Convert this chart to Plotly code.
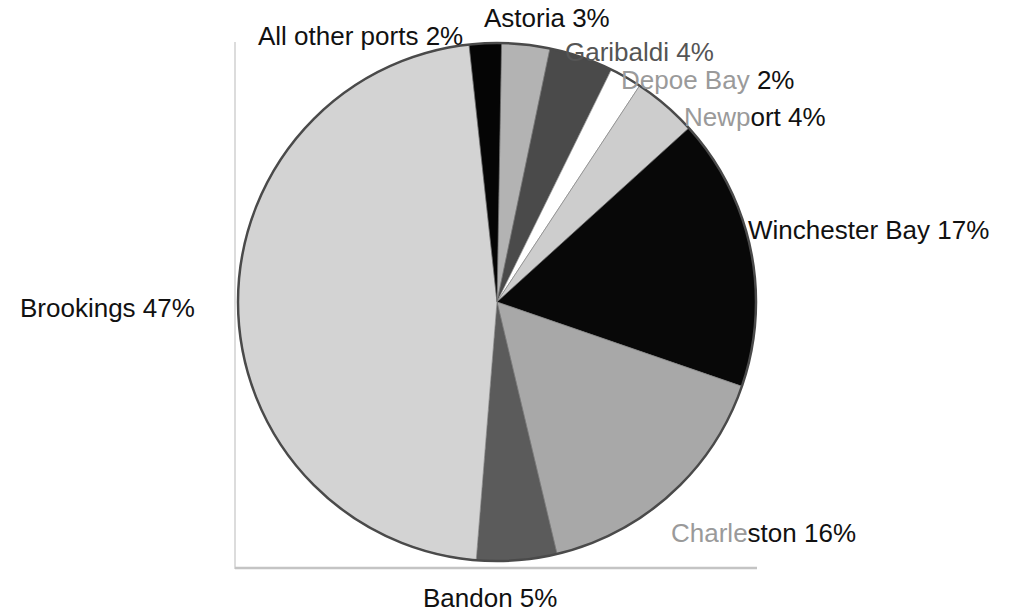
import plotly.graph_objects as go

# slices, clockwise from 12 o'clock
ports = ["Astoria", "Garibaldi", "Depoe Bay", "Newport", "Winchester Bay",
         "Charleston", "Bandon", "Brookings", "All other ports"]
shares = [3, 4, 2, 4, 17, 16, 5, 47, 2]
greys = ["#b3b3b3", "#4a4a4a", "#ffffff", "#cdcdcd", "#080808",
         "#a8a8a8", "#5b5b5b", "#d3d3d3", "#050505"]

# label placement (left edge px, centre y px) and faded prefix from the scan
label_pos = {
    "Astoria": (482, 18),
    "Garibaldi": (563, 52),
    "Depoe Bay": (619, 80),
    "Newport": (682, 117),
    "Winchester Bay": (746, 230),
    "Charleston": (669, 533),
    "Bandon": (421, 598),
    "Brookings": (18, 308),
    "All other ports": (256, 36),
}
faded = {"Depoe Bay": 9, "Newport": 4, "Charleston": 6}

W, H = 1019, 613
cx, cy, r = 497, 302, 259

fig = go.Figure(
    go.Pie(
        labels=ports,
        values=shares,
        sort=False,
        direction="clockwise",
        rotation=1,
        textinfo="none",
        hoverinfo="label+percent",
        marker=dict(colors=greys, line=dict(color="#777777", width=0.6)),
        domain=dict(
            x=[(cx - r) / W, (cx + r) / W],
            y=[1 - (cy + r) / H, 1 - (cy - r) / H],
        ),
        showlegend=False,
    )
)

annotations = []
for name, pct in zip(ports, shares):
    x, y = label_pos[name]
    n = faded.get(name, 0)
    text = f"{name} {pct}%"
    if n:
        text = f"<span style='color:#9a9a9a'>{text[:n]}</span>{text[n:]}"
    color = "#555555" if name == "Garibaldi" else "#111111"
    annotations.append(
        dict(
            x=x / W, y=1 - y / H, xref="paper", yref="paper",
            xanchor="left", yanchor="middle", showarrow=False,
            text=text, font=dict(size=26, color=color),
        )
    )

fig.update_layout(
    width=W,
    height=H,
    margin=dict(l=0, r=0, t=0, b=0),
    paper_bgcolor="white",
    plot_bgcolor="white",
    font=dict(family="Liberation Sans, Arial, sans-serif", color="#111111"),
    annotations=annotations,
    shapes=[
        # frame edges of the scanned figure
        dict(type="line", xref="paper", yref="paper", layer="below",
             x0=235 / W, x1=235 / W, y0=1 - 42 / H, y1=1 - 569 / H,
             line=dict(color="#d0d0d0", width=1.5)),
        dict(type="line", xref="paper", yref="paper", layer="below",
             x0=235 / W, x1=757 / W, y0=1 - 568 / H, y1=1 - 568 / H,
             line=dict(color="#c4c4c4", width=2.5)),
        # dark rim around the pie
        dict(type="circle", xref="paper", yref="paper", layer="above",
             x0=(cx - r) / W, x1=(cx + r) / W,
             y0=1 - (cy + r) / H, y1=1 - (cy - r) / H,
             line=dict(color="#4a4a4a", width=2.5)),
    ],
)

fig.write_html(
    "out.html",
    config={"displayModeBar": False},
    post_script="document.body.style.margin='0px';",
)
